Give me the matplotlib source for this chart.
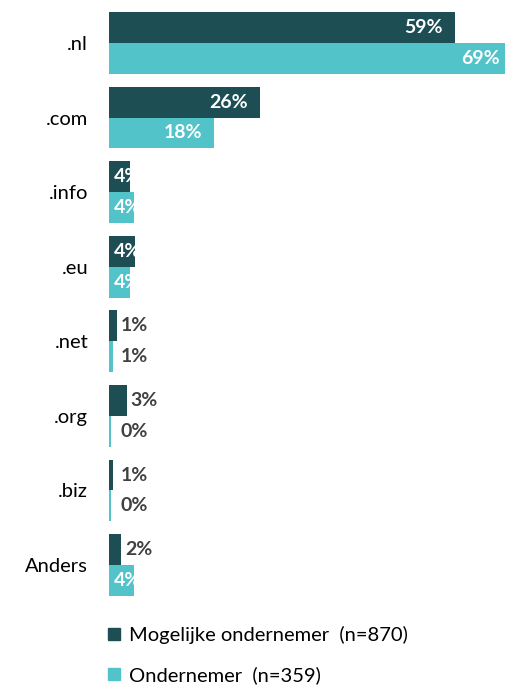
import matplotlib
matplotlib.use("Agg")
import matplotlib.pyplot as plt
from matplotlib.patches import Patch
import numpy as np

categories = ['.nl', '.com', '.info', '.eu', '.net', '.org', '.biz', 'Anders']
mogelijk = [59.2, 25.9, 3.6, 4.4, 1.4, 3.1, 0.6, 2.1]
ondernemer = [69.0, 18.0, 4.3, 3.6, 0.6, 0.3, 0.3, 4.3]
series_names = ['Mogelijke ondernemer  (n=870)', 'Ondernemer  (n=359)']

dark = '#1C4E54'
light = '#53C3CA'
grey = '#404040'
plt.rcParams['font.family'] = ['Lato', 'DejaVu Sans']

fig = plt.figure(figsize=(5.06, 6.86), dpi=100)
ax = fig.add_axes([0.2154, 0.1219, 0.7846, 0.8699])

y = np.arange(len(categories))
h = 0.415
xmax = 67.9
ax.barh(y - h / 2, mogelijk, height=h, color=dark)
ax.barh(y + h / 2, ondernemer, height=h, color=light)
ax.set_xlim(0, xmax)
ax.set_ylim(len(categories) - 0.5, -0.5)

def put_label(v, yy):
    txt = '%d%%' % round(v)
    if v >= 3.5:
        if v > 8:
            ax.text(v - 2.1, yy, txt, ha='right', va='center', color='white',
                    fontsize=14, fontweight='bold', clip_on=False)
        else:
            ax.text(0.8, yy, txt, ha='left', va='center', color='white',
                    fontsize=14, fontweight='bold')
    else:
        ax.text(max(v, 1.4) + 0.6, yy, txt, ha='left', va='center', color=grey,
                fontsize=14, fontweight='bold')

for i in range(len(categories)):
    put_label(mogelijk[i], y[i] - h / 2)
    put_label(ondernemer[i], y[i] + h / 2)

ax.set_yticks(y)
ax.set_yticklabels(categories, fontsize=14.5, color='#000000')
ax.tick_params(axis='y', length=0, pad=15)
ax.set_xticks([])
for s in ax.spines.values():
    s.set_visible(False)

handles = [Patch(color=dark), Patch(color=light)]
fig.legend(handles, series_names, loc='upper left', bbox_to_anchor=(0.2134, 0.0875),
           frameon=False, fontsize=14.5, handlelength=0.6, handleheight=0.6,
           handletextpad=0.45, labelspacing=1.1, borderaxespad=0, borderpad=0)

fig.savefig('out.png', dpi=100)
